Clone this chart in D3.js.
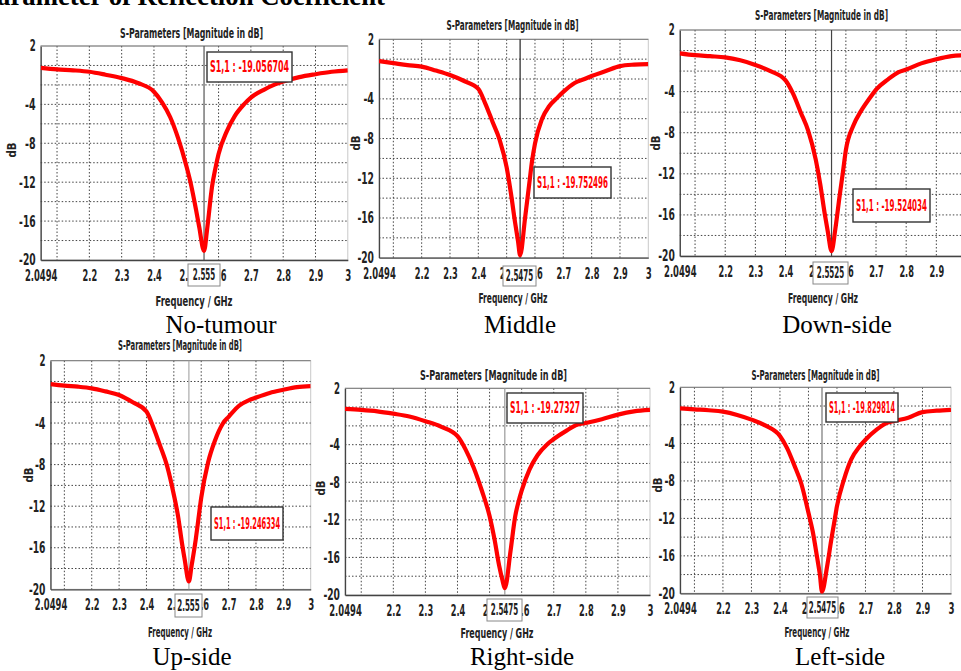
<!DOCTYPE html>
<html><head><meta charset="utf-8">
<script src="https://cdn.jsdelivr.net/npm/d3@7"></script>
<style>
body{margin:0;background:#fff;overflow:hidden;}
svg text.sans{font-family:"DejaVu Sans Condensed","Liberation Sans Narrow","Arial Narrow",sans-serif;font-weight:bold;}
svg text.serif{font-family:"Liberation Serif","Times New Roman",serif;}
</style></head><body>
<svg id="c" width="961" height="671"></svg>
<script>
// ---------- DATA ----------
const pageHeading = "arameter of Reflection Coefficient";
const chartTitle = "S-Parameters [Magnitude in dB]";
const xAxisTitle = "Frequency / GHz";
const yAxisTitle = "dB";
const panelNames = ["No-tumour", "Middle", "Down-side", "Up-side", "Right-side", "Left-side"];
const seriesName = "S1,1";

const freq = [2.0494, 2.1, 2.15, 2.2, 2.25, 2.3, 2.35, 2.4, 2.425, 2.45, 2.475, 2.5, 2.515, 2.53, 2.54,
              2.565, 2.58, 2.59, 2.6, 2.625, 2.65, 2.68, 2.7, 2.74, 2.775, 2.8, 2.85, 2.9, 2.95, 3.0];

const s11NoTumour = [-0.25, -0.4, -0.5, -0.65, -0.95, -1.3, -1.8, -2.7, -3.8, -5.3, -7.5, -10.3, -12.3, -14.8, -16.6,
                     -16.7, -12.4, -10.6, -9.1, -6.8, -5.2, -3.95, -3.3, -2.5, -1.95, -1.65, -1.2, -0.9, -0.65, -0.5];
const s11Middle    = [-0.2, -0.4, -0.6, -0.75, -1.15, -1.6, -2.2, -3.0, -4.5, -6.3, -8.1, -10.9, -13.5, -16.5, -18.3,
                     -16.0, -12.5, -10.2, -8.5, -6.0, -4.75, -3.85, -3.3, -2.4, -2.0, -1.7, -1.2, -0.7, -0.55, -0.5];
const s11DownSide  = [-0.27, -0.45, -0.55, -0.66, -0.95, -1.4, -2.0, -2.9, -4.2, -6.0, -7.8, -10.6, -13.0, -15.9, -17.6,
                     -17.4, -14.0, -11.9, -9.7, -7.3, -5.9, -4.6, -3.8, -2.8, -2.1, -1.85, -1.25, -0.85, -0.55, -0.45];
const s11UpSide    = [-0.25, -0.4, -0.5, -0.66, -0.95, -1.3, -2.0, -2.9, -4.4, -6.2, -8.1, -10.9, -12.9, -15.6, -17.2,
                     -17.7, -15.2, -13.2, -11.2, -7.8, -5.7, -4.0, -3.4, -2.3, -1.8, -1.55, -1.1, -0.8, -0.55, -0.45];
const s11RightSide = [-0.2, -0.3, -0.45, -0.7, -1.0, -1.5, -2.1, -3.1, -4.5, -6.4, -8.8, -11.6, -14.0, -16.9, -18.4,
                     -15.4, -11.6, -10.1, -8.9, -6.6, -5.1, -3.95, -3.4, -2.5, -1.85, -1.7, -1.3, -0.8, -0.45, -0.3];
const s11LeftSide  = [-0.24, -0.35, -0.45, -0.6, -0.95, -1.45, -2.1, -3.2, -4.5, -6.3, -8.3, -11.4, -13.4, -16.1, -18.0,
                     -17.2, -14.3, -12.5, -10.7, -7.8, -5.7, -4.3, -3.6, -2.5, -1.8, -1.6, -1.25, -0.65, -0.5, -0.4];

const markerFreq  = [2.555, 2.5475, 2.5525, 2.555, 2.5475, 2.5475];
const markerValue = [-19.056704, -19.752496, -19.524034, -19.246334, -19.27327, -19.829814];

const xTickValues = [2.0494, 2.2, 2.3, 2.4, 2.5, 2.6, 2.7, 2.8, 2.9, 3];
const xGridValues = [2.1, 2.2, 2.3, 2.4, 2.5, 2.6, 2.7, 2.8, 2.9];
const yTickValues = [2, -4, -8, -12, -16, -20];
const yGridValues = [0, -2, -4, -6, -8, -10, -12, -14, -16, -18];
const xDomain = [2.0494, 3];
const yDomain = [-20, 2];

const allSeries = [s11NoTumour, s11Middle, s11DownSide, s11UpSide, s11RightSide, s11LeftSide];

// ---------- LAYOUT (positions / styles) ----------
const layout = [
  {x0:40.7, x1:347.8, y0:46,    y1:260,   tcx:191.5, tcy:33,  tw:143, dbx:11,  dby:150, xlcx:194, xlcy:301, xlw:77, ccx:221, cby:333,
   mb:{x:207,y:52,w:85,h:30}, xb:{x:188,y:264,w:32,h:22}, cur:"#555"},
  {x0:379,  x1:648.3, y0:39.3,  y1:257.7, tcx:512.5, tcy:25,  tw:132, dbx:355, dby:143, xlcx:513, xlcy:298, xlw:69, ccx:520, cby:333,
   mb:{x:534,y:167,w:77,h:31}, xb:{x:503,y:266,w:33,h:20}, cur:"#222"},
  {x0:679.8,x1:966.5, y0:30,    y1:256,   tcx:821.5, tcy:15,  tw:133, dbx:655, dby:143, xlcx:823, xlcy:298, xlw:70, ccx:837, cby:333,
   mb:{x:853,y:189,w:77,h:33}, xb:{x:813,y:262,w:35,h:22}, cur:"#444"},
  {x0:50.5, x1:310.7, y0:360.7, y1:589.3, tcx:180,   tcy:345, tw:124, dbx:28,  dby:475, xlcx:180, xlcy:632, xlw:64, ccx:192, cby:665,
   mb:{x:211,y:507,w:72,h:33}, xb:{x:175,y:594,w:27,h:23}, cur:"#aaa"},
  {x0:345,  x1:650,   y0:388.3, y1:595,   tcx:493.5, tcy:375, tw:147, dbx:320, dby:488, xlcx:497, xlcy:633, xlw:73, ccx:522, cby:665,
   mb:{x:507,y:393,w:76,h:30}, xb:{x:487,y:599,w:35,h:22}, cur:"#999"},
  {x0:680,  x1:951,   y0:387.3, y1:593.3, tcx:815.5, tcy:375, tw:128, dbx:657, dby:485, xlcx:817, xlcy:632, xlw:65, ccx:840, cby:665,
   mb:{x:826,y:393,w:72,h:29}, xb:{x:807,y:597,w:31,h:21}, cur:"#777"}
];

const svg = d3.select("#c");
// set a fixed rendered width per character so labels look condensed like the original
function fitWidth(sel, digitW) {
  sel.each(function () {
    const s = this.textContent;
    let w = 0;
    for (const ch of s) w += (ch === "." || ch === ",") ? 2.6 : (ch === "-" ? 4.6 : (ch === " " ? 2.5 : digitW));
    d3.select(this).attr("textLength", w).attr("lengthAdjust", "spacingAndGlyphs");
  });
}

// heading (cut off at top)
svg.append("text").attr("class","serif")
  .attr("x", -3).attr("y", 5)
  .attr("textLength", 388).attr("lengthAdjust","spacingAndGlyphs")
  .style("font-size","27px").style("font-weight","bold").attr("fill","#000")
  .text(pageHeading);

const fmtX = d => d === 2.0494 ? "2.0494" : d3.format("~g")(d);
const fmtY = d => String(d);

layout.forEach((L, i) => {
  const g = svg.append("g");
  const x = d3.scaleLinear().domain(xDomain).range([L.x0, L.x1]);
  const y = d3.scaleLinear().domain(yDomain).range([L.y1, L.y0]);

  // plot background
  g.append("rect").attr("x", L.x0).attr("y", L.y0).attr("width", L.x1 - L.x0).attr("height", L.y1 - L.y0)
    .attr("fill", "#fff").attr("stroke", "#c8c8c8").attr("stroke-width", 1);

  // gridlines
  g.selectAll(".vg").data(xGridValues).join("line")
    .attr("x1", d => x(d)).attr("x2", d => x(d)).attr("y1", L.y0).attr("y2", L.y1)
    .attr("stroke", "#444").attr("stroke-width", 1).attr("stroke-dasharray", "1.5,2");
  g.selectAll(".hg").data(yGridValues).join("line")
    .attr("x1", L.x0).attr("x2", L.x1).attr("y1", d => y(d)).attr("y2", d => y(d))
    .attr("stroke", "#444").attr("stroke-width", 1).attr("stroke-dasharray", "1.5,2");

  // axes
  const ax = g.append("g").attr("transform", `translate(0,${L.y1})`)
    .call(d3.axisBottom(x).tickValues(xTickValues).tickFormat(fmtX).tickSize(0).tickPadding(10));
  const ay = g.append("g").attr("transform", `translate(${L.x0},0)`)
    .call(d3.axisLeft(y).tickValues(yTickValues).tickFormat(fmtY).tickSize(0).tickPadding(5));
  [ax, ay].forEach(a => {
    a.select(".domain").attr("stroke", "#444").attr("stroke-width", 1.3);
    const t = a.selectAll("text").attr("class", "sans").attr("fill", "#222").style("font-size", "15.5px");
    fitWidth(t, 6.0);
  });
  g.append("line").attr("x1", L.x0).attr("x2", L.x1).attr("y1", L.y0).attr("y2", L.y0)
    .attr("stroke", "#777").attr("stroke-width", 1);

  // marker cursor line
  g.append("line").attr("x1", x(markerFreq[i])).attr("x2", x(markerFreq[i]))
    .attr("y1", L.y0).attr("y2", L.y1).attr("stroke", L.cur).attr("stroke-width", 1.2);

  // curve
  const pts = freq.map((f, k) => ({f, v: allSeries[i][k]}));
  pts.push({f: markerFreq[i], v: markerValue[i]});
  pts.sort((a, b) => a.f - b.f);
  const clipId = "clip" + i;
  g.append("clipPath").attr("id", clipId).append("rect")
    .attr("x", L.x0).attr("y", L.y0 - 1).attr("width", L.x1 - L.x0).attr("height", L.y1 - L.y0 + 2);
  g.append("path").datum(pts)
    .attr("clip-path", `url(#${clipId})`)
    .attr("fill", "none").attr("stroke", "#ff0000").attr("stroke-width", 4.2)
    .attr("stroke-linejoin", "round")
    .attr("d", d3.line().x(d => x(d.f)).y(d => y(d.v)).curve(d3.curveMonotoneX));

  // marker value box
  g.append("rect").attr("x", L.mb.x).attr("y", L.mb.y).attr("width", L.mb.w).attr("height", L.mb.h)
    .attr("fill", "#fff").attr("stroke", "#333").attr("stroke-width", 1.4);
  g.append("text").attr("class", "sans")
    .attr("x", L.mb.x + L.mb.w / 2).attr("y", L.mb.y + L.mb.h / 2).attr("dy", "0.36em")
    .attr("text-anchor", "middle").attr("fill", "#ff0000").style("font-size", "15px")
    .attr("textLength", L.mb.w - 6).attr("lengthAdjust", "spacingAndGlyphs")
    .text(`${seriesName} : ${markerValue[i]}`);

  // x marker label box
  g.append("rect").attr("x", L.xb.x).attr("y", L.xb.y).attr("width", L.xb.w).attr("height", L.xb.h)
    .attr("fill", "#fff").attr("stroke", "#888").attr("stroke-width", 1);
  const xbt = g.append("text").attr("class", "sans")
    .attr("x", L.xb.x + L.xb.w / 2).attr("y", L.xb.y + L.xb.h / 2).attr("dy", "0.36em")
    .attr("text-anchor", "middle").attr("fill", "#222").style("font-size", "15px")
    .text(String(markerFreq[i]));
  fitWidth(xbt, 5.0);

  // title
  g.append("text").attr("class", "sans")
    .attr("x", L.tcx).attr("y", L.tcy).attr("dy", "0.36em").attr("text-anchor", "middle")
    .attr("fill", "#222").style("font-size", "13.5px")
    .attr("textLength", L.tw).attr("lengthAdjust", "spacingAndGlyphs")
    .text(chartTitle);

  // y axis title
  g.append("text").attr("class", "sans")
    .attr("transform", `translate(${L.dbx},${L.dby}) rotate(-90)`)
    .attr("dy", "0.36em").attr("text-anchor", "middle")
    .attr("fill", "#222").style("font-size", "13px")
    .attr("textLength", 15).attr("lengthAdjust", "spacingAndGlyphs")
    .text(yAxisTitle);

  // x axis title
  g.append("text").attr("class", "sans")
    .attr("x", L.xlcx).attr("y", L.xlcy).attr("dy", "0.36em").attr("text-anchor", "middle")
    .attr("fill", "#222").style("font-size", "13.5px")
    .attr("textLength", L.xlw).attr("lengthAdjust", "spacingAndGlyphs")
    .text(xAxisTitle);

  // caption
  svg.append("text").attr("class", "serif")
    .attr("x", L.ccx).attr("y", L.cby).attr("text-anchor", "middle")
    .attr("fill", "#000").style("font-size", "25px")
    .text(panelNames[i]);
});
</script>
</body></html>
